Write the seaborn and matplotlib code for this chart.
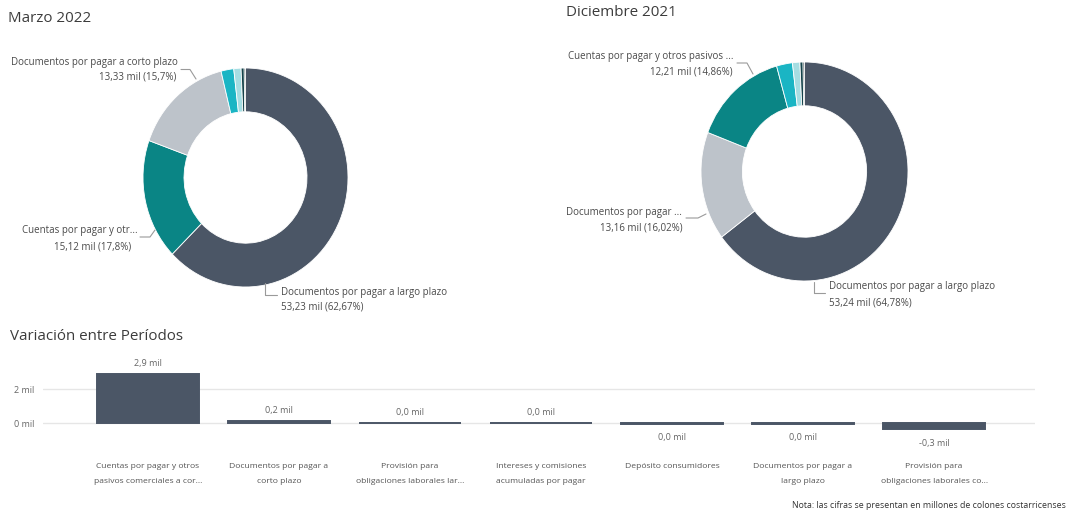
import matplotlib
matplotlib.use("Agg")
import matplotlib.pyplot as plt
from matplotlib.lines import Line2D
import pandas as pd
import seaborn as sns

# Pasivos por rubro, en millones de colones
rubros = [
    "Documentos por pagar a largo plazo",
    "Cuentas por pagar y otros pasivos comerciales a corto plazo",
    "Documentos por pagar a corto plazo",
    "Provisión para obligaciones laborales corto plazo",
    "Provisión para obligaciones laborales largo plazo",
    "Intereses y comisiones acumuladas por pagar",
    "Depósito consumidores",
]
marzo_2022 = [53.23, 15.12, 13.33, 1.701, 0.97, 0.41, 0.175]
diciembre_2021 = [53.24, 12.21, 13.164, 2.04, 0.95, 0.40, 0.18]
colores_rubro = ["#4b5666", "#0a8585", "#bdc3ca", "#1ab5c4", "#a5dde2", "#15434a", "#0b1f24"]

# Etiquetas abreviadas del eje de categorías
etiquetas_barras = [
    "Documentos por pagar a\nlargo plazo",
    "Cuentas por pagar y otros\npasivos comerciales a cor...",
    "Documentos por pagar a\ncorto plazo",
    "Provisión para\nobligaciones laborales co...",
    "Provisión para\nobligaciones laborales lar...",
    "Intereses y comisiones\nacumuladas por pagar",
    "Depósito consumidores",
]

W, H = 1068, 515
TXT = "#4a4a4a"
TITLE = "#3c3c3c"
BAR = "#4b5666"
LEADER = "#9a9a9a"

sns.set_theme(style="white")
plt.rcParams["font.family"] = ["Open Sans", "DejaVu Sans"]

fig = plt.figure(figsize=(W / 100, H / 100), dpi=100)
fig.patch.set_facecolor("white")


def fx(x, y):
    return x / W, 1 - y / H


def box(left, top, right, bottom):
    return [left / W, 1 - bottom / H, (right - left) / W, (bottom - top) / H]


def donut(rect, valores):
    df = pd.DataFrame({"rubro": rubros, "valor": valores, "color": colores_rubro})
    df = df.sort_values("valor", ascending=False, kind="stable")
    ax = fig.add_axes(rect)
    ax.pie(df["valor"], colors=df["color"], startangle=90, counterclock=False,
           wedgeprops=dict(width=0.4, edgecolor="white", linewidth=0.6))
    ax.set_aspect("auto")
    ax.set_xlim(-1, 1)
    ax.set_ylim(-1, 1)
    total = df["valor"].sum()
    return df.assign(pct=df["valor"] / total * 100)


def fmt(v, dec=2):
    return f"{v:.{dec}f}".replace(".", ",")


def label(lines, x, ha, size=7.0):
    for i, (txt, yy) in enumerate(lines):
        xx = x[i] if isinstance(x, list) else x
        fig.text(*fx(xx, yy), txt, ha=ha, va="center", fontsize=size, color=TXT)


def leader(pts):
    xs = [p[0] / W for p in pts]
    ys = [1 - p[1] / H for p in pts]
    fig.add_artist(Line2D(xs, ys, transform=fig.transFigure, color=LEADER, lw=0.8))


# ---- Marzo 2022 ----
fig.text(*fx(8, 19), "Marzo 2022", fontsize=10.9, color=TITLE, va="center", ha="left")
m = donut(box(143, 68, 348, 287), marzo_2022).set_index("rubro")

r = m.loc["Documentos por pagar a corto plazo"]
label([("Documentos por pagar a corto plazo", 63),
       (f"{fmt(r.valor)} mil ({fmt(r.pct, 1)}%)", 77)], [178, 176], "right")
leader([(181, 69.5), (190, 69.5), (196, 79)])

r = m.loc["Cuentas por pagar y otros pasivos comerciales a corto plazo"]
label([("Cuentas por pagar y otr...", 230),
       (f"{fmt(r.valor)} mil ({fmt(r.pct, 1)}%)", 247)], [138, 131], "right")
leader([(140, 237), (150, 237), (155, 230)])

r = m.loc["Documentos por pagar a largo plazo"]
label([("Documentos por pagar a largo plazo", 292),
       (f"{fmt(r.valor)} mil ({fmt(r.pct)}%)", 307)], 281, "left")
leader([(265, 283), (265, 295), (277, 295)])

# ---- Diciembre 2021 ----
fig.text(*fx(566, 13), "Diciembre 2021", fontsize=10.9, color=TITLE, va="center", ha="left")
d = donut(box(701, 62, 908, 281), diciembre_2021).set_index("rubro")

r = d.loc["Cuentas por pagar y otros pasivos comerciales a corto plazo"]
label([("Cuentas por pagar y otros pasivos ...", 57),
       (f"{fmt(r.valor)} mil ({fmt(r.pct)}%)", 72)], 733, "right")
leader([(737, 63), (747, 63), (753, 74)])

r = d.loc["Documentos por pagar a corto plazo"]
label([("Documentos por pagar ...", 212),
       (f"{fmt(r.valor)} mil ({fmt(r.pct)}%)", 228)], [682, 683], "right")
leader([(686, 218), (698, 218), (706, 214)])

r = d.loc["Documentos por pagar a largo plazo"]
label([("Documentos por pagar a largo plazo", 287),
       (f"{fmt(r.valor)} mil ({fmt(r.pct)}%)", 303)], 829, "left")
leader([(814, 282), (814, 293), (825, 293)])

# ---- Variación entre periodos ----
fig.text(*fx(10, 336), "Variación entre Períodos", fontsize=10.9, color=TITLE,
         va="center", ha="left")

var = pd.DataFrame({
    "rubro": etiquetas_barras,
    "variacion": [round(a - b, 3) for a, b in zip(marzo_2022, diciembre_2021)],
}).sort_values("variacion", ascending=False, kind="stable")

ax = fig.add_axes(box(43, 350, 1035, 450))
sns.barplot(data=var, x="rubro", y="variacion", ax=ax, color=BAR, saturation=1,
            width=0.78, edgecolor=BAR, linewidth=1.4)
ax.set_xlim(-0.80, 6.77)
ax.set_ylim(-1.56, 4.32)
ax.set_yticks([0, 2])
ax.set_yticklabels(["0 mil", "2 mil"])
ax.set_xticks(range(len(var)))
ax.set_xticklabels(var["rubro"], linespacing=2.55, fontsize=6.1, color="#555555")
ax.yaxis.grid(True, color="#e6e6e6", lw=1)
ax.set_axisbelow(True)
for s in ax.spines.values():
    s.set_visible(False)
ax.set_xlabel("")
ax.set_ylabel("")
ax.tick_params(axis="y", length=0, pad=6, labelsize=6.5, labelcolor="#666666")
ax.tick_params(axis="x", length=0, pad=9.5)

for i, v in enumerate(var["variacion"]):
    shown = round(v, 1) + 0.0
    txt = f"{fmt(shown, 1)} mil"
    if v >= 0:
        ax.annotate(txt, (i, v), xytext=(0, 7.5), textcoords="offset points",
                    ha="center", va="center", fontsize=6.5, color="#666666")
    else:
        ax.annotate(txt, (i, v), xytext=(0, -10), textcoords="offset points",
                    ha="center", va="center", fontsize=6.5, color="#666666")

fig.text(*fx(1066, 506), "Nota: las cifras se presentan en millones de colones costarricenses",
         ha="right", va="center", fontsize=6.3, color="#333333")

fig.savefig("out.png", dpi=100, facecolor="white")
